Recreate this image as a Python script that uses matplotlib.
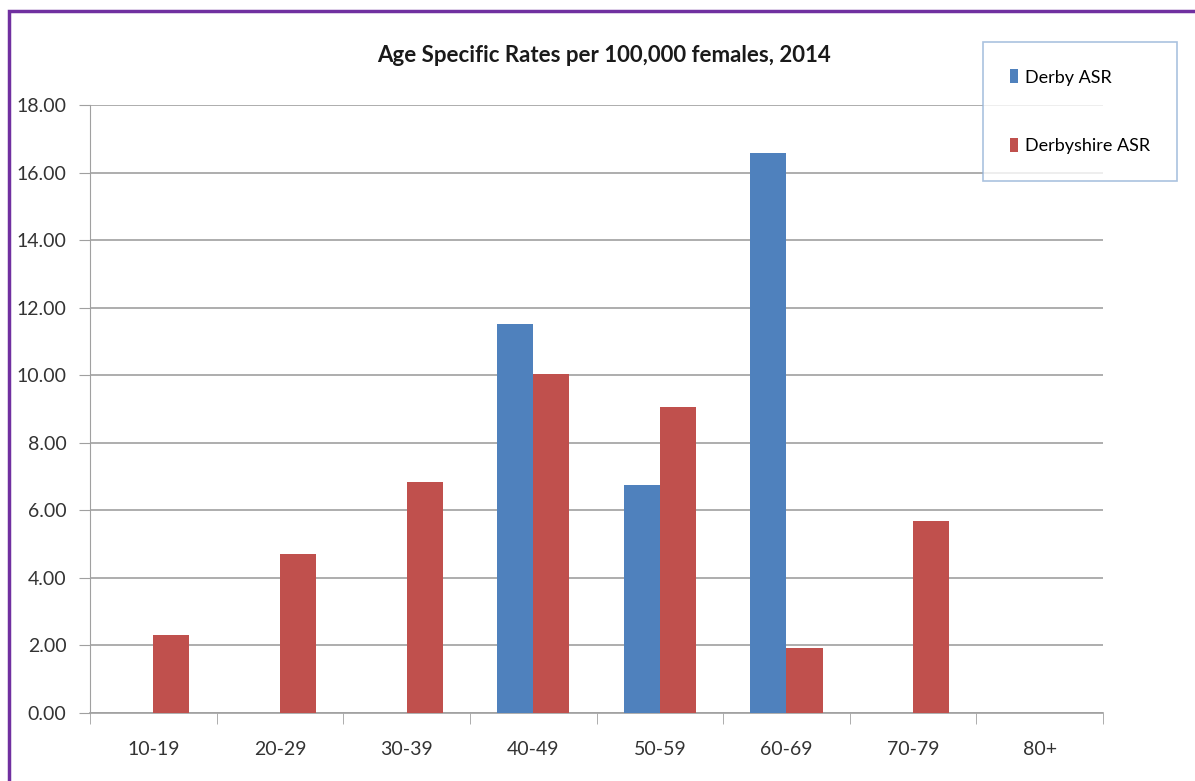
import numpy as np
import matplotlib.pyplot as plt
from matplotlib.patches import Rectangle

# age specific rates per 100,000 females, 2014
age_groups = ['10-19', '20-29', '30-39', '40-49', '50-59', '60-69', '70-79', '80+']
derby_asr = [0, 0, 0, 11.52, 6.75, 16.58, 0, 0]
derbyshire_asr = [2.31, 4.71, 6.84, 10.04, 9.06, 1.92, 5.68, 0]

plt.rcParams['font.family'] = ['Lato', 'DejaVu Sans']

fig = plt.figure(figsize=(11.95, 7.81), dpi=100)
W, H = 1195, 781

# purple frame around the chart
fig.patches.append(Rectangle((9 / W, -0.05), 1.1, 1 - 11 / H + 0.05,
                             transform=fig.transFigure, fill=False,
                             edgecolor='#7030A0', linewidth=2.5))

ax = fig.add_axes([90 / W, 1 - 713 / H, (1103 - 90) / W, (713 - 105) / H])

x = np.arange(len(age_groups))
w = 0.285
ax.bar(x - w / 2, derby_asr, w, color='#4F81BD', label='Derby ASR', zorder=3)
ax.bar(x + w / 2, derbyshire_asr, w, color='#C0504D', label='Derbyshire ASR', zorder=3)

ax.set_xlim(-0.5, len(age_groups) - 0.5)
ax.set_ylim(0, 18)
yt = np.arange(0, 18.1, 2)
ax.set_yticks(yt)
ax.set_yticklabels([f'{v:.2f}' for v in yt], fontsize=14, color='#333333')
ax.set_xticks(x)
ax.set_xticklabels(age_groups, fontsize=14, color='#333333')
ax.tick_params(axis='x', length=0, pad=20)
ax.tick_params(axis='y', length=8, color='#A0A0A0', pad=9)
ax.set_xticks(np.arange(-0.5, len(age_groups)), minor=True)
ax.tick_params(axis='x', which='minor', length=8, color='#A0A0A0')

ax.grid(axis='y', color='#A0A0A0', linewidth=1.2, zorder=0)
for s in ['top', 'right']:
    ax.spines[s].set_visible(False)
ax.spines['left'].set_color('#A0A0A0')
ax.spines['bottom'].set_color('#A0A0A0')
ax.spines['bottom'].set_linewidth(1.2)

fig.text(604 / W, 1 - 55 / H, 'Age Specific Rates per 100,000 females, 2014',
         ha='center', va='center', fontsize=16, fontweight='bold', color='#1a1a1a')

leg = fig.legend(loc='upper left', bbox_to_anchor=(983 / W, 1 - 42 / H), fontsize=13,
                 frameon=True, fancybox=False, handlelength=0.45, handleheight=0.85,
                 labelspacing=2.9, borderpad=1.5, handletextpad=0.35,
                 borderaxespad=0)
leg.get_frame().set_edgecolor('#95B3D7')
leg.get_frame().set_linewidth(1.2)

fig.savefig('out.png', dpi=100)
